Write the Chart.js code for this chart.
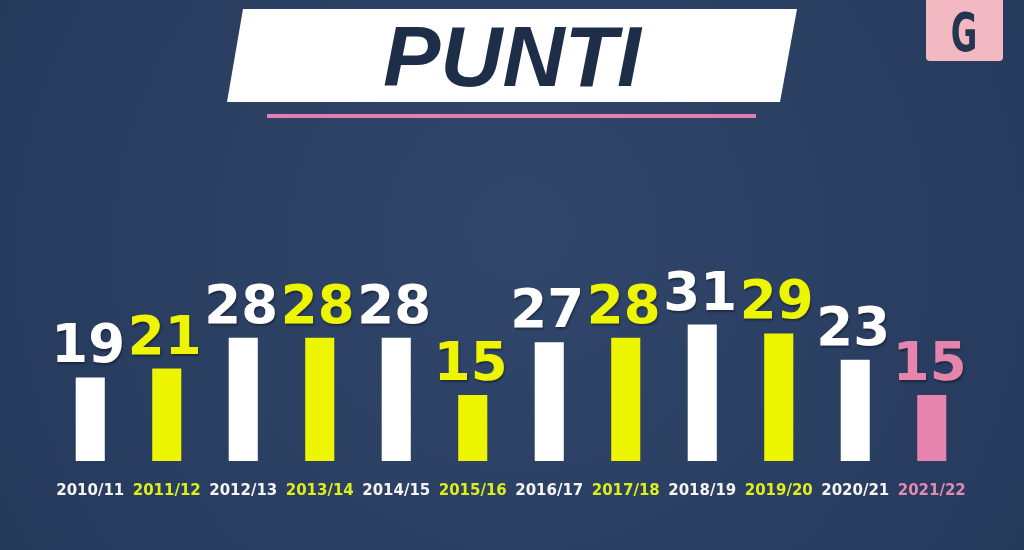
<!DOCTYPE html>
<html>
<head>
<meta charset="utf-8">
<script src="https://cdn.jsdelivr.net/npm/chart.js@4/dist/chart.umd.min.js"></script>
<style>
  html, body { margin: 0; padding: 0; background: #25385a; }
  #wrap { width: 1024px; height: 550px; position: relative; }
</style>
</head>
<body>
<div id="wrap"><canvas id="puntiChart" width="1024" height="550"></canvas></div>
<script>
// stagioni e punti
var seasons = ['2010/11', '2011/12', '2012/13', '2013/14', '2014/15', '2015/16',
               '2016/17', '2017/18', '2018/19', '2019/20', '2020/21', '2021/22'];
var points = [19, 21, 28, 28, 28, 15, 27, 28, 31, 29, 23, 15];
var titleText = 'PUNTI';
var logoText = 'G';

var WHITE = '#ffffff';
var YELLOW = '#eef500';
var PINK = '#e784ad';

function barColor(i) {
	if (i == seasons.length - 1) return PINK;
	return (i % 2 == 0) ? WHITE : YELLOW;
}
function tickColor(i) {
	if (i == seasons.length - 1) return '#e38ab2';
	return (i % 2 == 0) ? '#f4f4f4' : '#dcef1c';
}

var barColors = [];
for (var i = 0; i < points.length; i++) {
	barColors.push(barColor(i));
}

var backgroundPlugin = {
	id: 'bg',
	beforeDraw: function(chart) {
		var ctx = chart.ctx;
		ctx.save();
		var g = ctx.createRadialGradient(520, 230, 40, 520, 260, 640);
		g.addColorStop(0, '#30466a');
		g.addColorStop(1, '#24385a');
		ctx.fillStyle = g;
		ctx.fillRect(0, 0, chart.width, chart.height);

		// title box
		ctx.fillStyle = '#ffffff';
		ctx.beginPath();
		ctx.moveTo(243, 9);
		ctx.lineTo(797, 9);
		ctx.lineTo(780, 102);
		ctx.lineTo(227, 102);
		ctx.closePath();
		ctx.fill();
		ctx.fillStyle = '#1f2e48';
		ctx.font = 'italic bold 86px "Liberation Sans", Arial, sans-serif';
		ctx.textAlign = 'center';
		ctx.textBaseline = 'alphabetic';
		ctx.fillText(titleText, 512, 86);

		// pink underline
		ctx.fillStyle = '#e07fb0';
		ctx.fillRect(267, 114, 489, 4);

		// logo
		ctx.fillStyle = '#f2b9c2';
		ctx.beginPath();
		ctx.moveTo(926, 0);
		ctx.lineTo(1003, 0);
		ctx.lineTo(1003, 57);
		ctx.quadraticCurveTo(1003, 61, 999, 61);
		ctx.lineTo(930, 61);
		ctx.quadraticCurveTo(926, 61, 926, 57);
		ctx.closePath();
		ctx.fill();
		ctx.fillStyle = '#243552';
		ctx.font = 'bold 54px "DejaVu Sans", sans-serif';
		ctx.save();
		ctx.translate(964, 51);
		ctx.scale(0.6, 1);
		ctx.fillText(logoText, 0, 0);
		ctx.restore();
		ctx.restore();
	}
};

var valueLabels = {
	id: 'valueLabels',
	afterDatasetsDraw: function(chart) {
		var ctx = chart.ctx;
		var meta = chart.getDatasetMeta(0);
		ctx.save();
		ctx.font = 'bold 53px "DejaVu Sans", sans-serif';
		ctx.textAlign = 'center';
		ctx.textBaseline = 'alphabetic';
		ctx.shadowColor = 'rgba(0,0,0,0.35)';
		ctx.shadowOffsetX = 1;
		ctx.shadowOffsetY = 2;
		ctx.shadowBlur = 2;
		for (var i = 0; i < meta.data.length; i++) {
			var bar = meta.data[i];
			ctx.fillStyle = barColors[i];
			ctx.fillText(points[i], bar.x - 2, bar.y - 15);
		}
		ctx.restore();
	}
};

var ctx1 = document.getElementById('puntiChart');
var puntiChart = new Chart(ctx1, {
	type: 'bar',
	data: {
		labels: seasons,
		datasets: [{
			data: points,
			backgroundColor: barColors,
			borderWidth: 0,
			barPercentage: 0.38,
			categoryPercentage: 1.0
		}]
	},
	options: {
		responsive: false,
		animation: false,
		layout: {
			padding: { left: 52, right: 54, top: 285, bottom: 29 }
		},
		plugins: {
			legend: { display: false },
			tooltip: { enabled: false }
		},
		scales: {
			x: {
				grid: { display: false, drawTicks: false },
				border: { display: false },
				ticks: {
					padding: 21,
					maxRotation: 0,
					autoSkip: false,
					font: { family: '"DejaVu Sans", sans-serif', weight: 'bold', size: 15 },
					color: function(c) { return tickColor(c.index); }
				}
			},
			y: {
				display: false,
				min: 0,
				max: 40
			}
		}
	},
	plugins: [backgroundPlugin, valueLabels]
});
</script>
</body>
</html>
